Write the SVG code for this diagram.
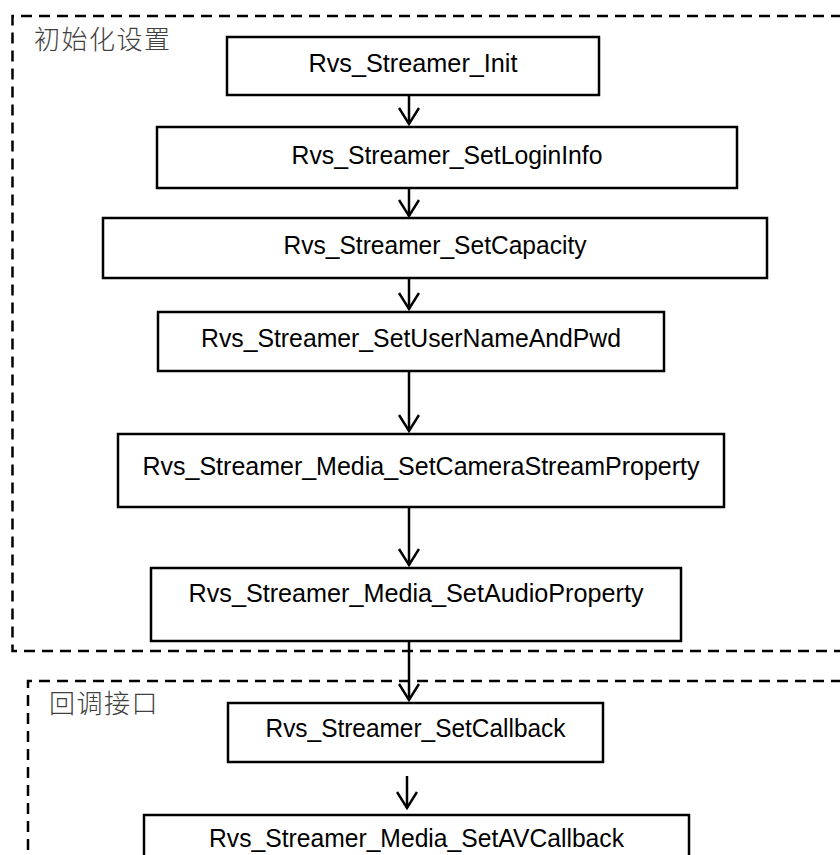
<svg xmlns="http://www.w3.org/2000/svg" width="840" height="855" viewBox="0 0 840 855">
<style>
.box{fill:#fff;stroke:#000;stroke-width:2.5}
.grp{fill:none;stroke:#000;stroke-width:2.5;stroke-dasharray:11 7}
.lbl{font-family:"Liberation Sans",Arial,sans-serif;font-size:25px;fill:#000;text-anchor:middle}
.cjk{font-family:"Noto Sans CJK SC","Noto Sans",sans-serif;font-size:26px;font-weight:300;fill:#404040;letter-spacing:1.5px}
.edge{fill:none;stroke:#000;stroke-width:2.5}
</style>
<defs>
<marker id="v" markerUnits="userSpaceOnUse" markerWidth="20" markerHeight="22" refX="17" refY="11" orient="auto" viewBox="0 0 20 22">
<path d="M1,1 L17,11 L1,21" fill="none" stroke="#000" stroke-width="2.5"/>
</marker>
</defs>
<g id="group-init">
<path class="grp" d="M860,16 H12.5 V651 H860"/>
<text class="cjk" x="34" y="49">初始化设置</text>
</g>
<g id="group-callback">
<path class="grp" d="M860,681 H28 V870"/>
<text class="cjk" x="49" y="713">回调接口</text>
</g>
<g id="n1"><rect class="box" x="227" y="37" width="372" height="58"/><text class="lbl" x="413" y="72" textLength="209" lengthAdjust="spacingAndGlyphs">Rvs_Streamer_Init</text></g>
<g id="n2"><rect class="box" x="157" y="127" width="580" height="61"/><text class="lbl" x="447" y="164" textLength="311" lengthAdjust="spacingAndGlyphs">Rvs_Streamer_SetLoginInfo</text></g>
<g id="n3"><rect class="box" x="103" y="218" width="664" height="60"/><text class="lbl" x="435" y="254" textLength="303" lengthAdjust="spacingAndGlyphs">Rvs_Streamer_SetCapacity</text></g>
<g id="n4"><rect class="box" x="158" y="312" width="506" height="59"/><text class="lbl" x="411" y="347" textLength="420" lengthAdjust="spacingAndGlyphs">Rvs_Streamer_SetUserNameAndPwd</text></g>
<g id="n5"><rect class="box" x="118" y="434" width="606" height="73"/><text class="lbl" x="421" y="475" textLength="557" lengthAdjust="spacingAndGlyphs">Rvs_Streamer_Media_SetCameraStreamProperty</text></g>
<g id="n6"><rect class="box" x="151" y="568" width="530" height="73"/><text class="lbl" x="416" y="602" textLength="455" lengthAdjust="spacingAndGlyphs">Rvs_Streamer_Media_SetAudioProperty</text></g>
<g id="n7"><rect class="box" x="228" y="703" width="375" height="59"/><text class="lbl" x="415.5" y="737" textLength="300" lengthAdjust="spacingAndGlyphs">Rvs_Streamer_SetCallback</text></g>
<g id="n8"><rect class="box" x="144" y="815" width="545" height="60"/><text class="lbl" x="416.5" y="847" textLength="415" lengthAdjust="spacingAndGlyphs">Rvs_Streamer_Media_SetAVCallback</text></g>
<g id="connectors">
<path class="edge" d="M409,95 V124" marker-end="url(#v)"/>
<path class="edge" d="M409,188 V216" marker-end="url(#v)"/>
<path class="edge" d="M409,278 V309" marker-end="url(#v)"/>
<path class="edge" d="M409,371 V431" marker-end="url(#v)"/>
<path class="edge" d="M409,507 V565" marker-end="url(#v)"/>
<path class="edge" d="M409,641 V700" marker-end="url(#v)"/>
<path class="edge" d="M407,776 V808" marker-end="url(#v)"/>
</g>
</svg>
